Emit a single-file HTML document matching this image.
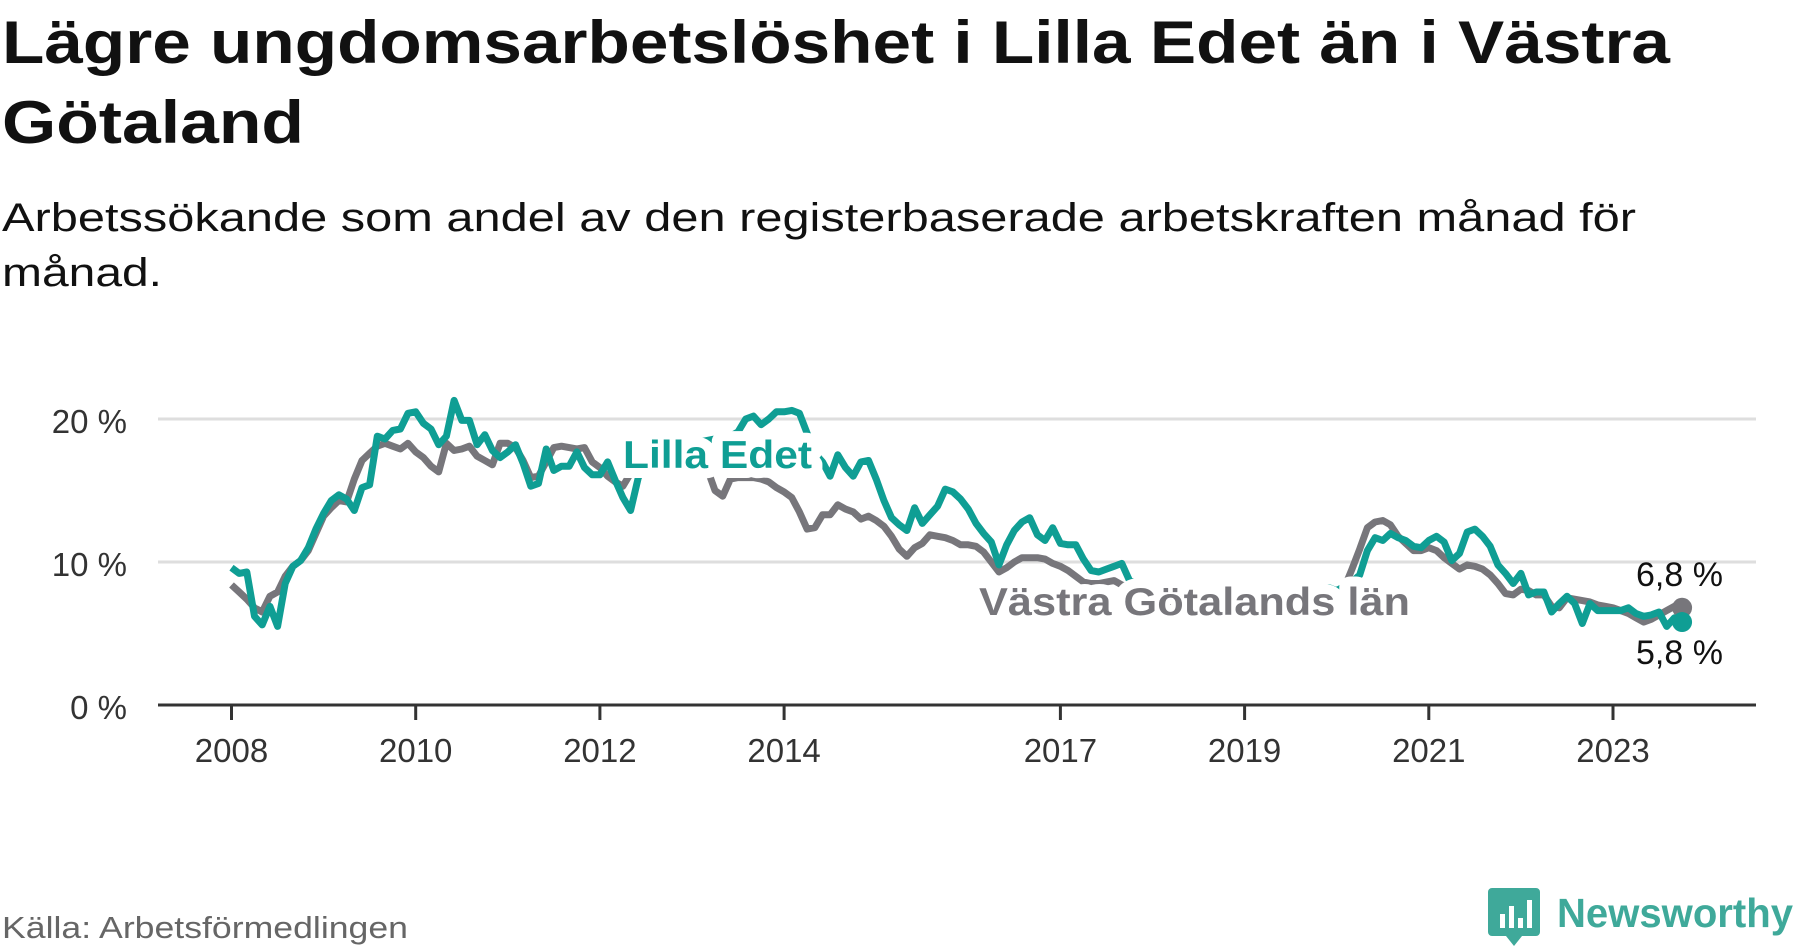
<!DOCTYPE html>
<html><head><meta charset="utf-8"><style>
html,body{margin:0;padding:0;background:#fff;}
svg{display:block;font-family:"Liberation Sans",sans-serif;}
</style></head><body>
<svg id="chart" width="1800" height="948" viewBox="0 0 1800 948">
<text x="2" y="63" font-size="60" font-weight="bold" fill="#111" textLength="1668" lengthAdjust="spacingAndGlyphs">Lägre ungdomsarbetslöshet i Lilla Edet än i Västra</text>
<text x="2" y="143" font-size="60" font-weight="bold" fill="#111" textLength="302" lengthAdjust="spacingAndGlyphs">Götaland</text>
<text x="2" y="231" font-size="40" fill="#111" textLength="1634" lengthAdjust="spacingAndGlyphs">Arbetssökande som andel av den registerbaserade arbetskraften månad för</text>
<text x="2" y="286" font-size="40" fill="#111" textLength="160" lengthAdjust="spacingAndGlyphs">månad.</text>
<g id="grid"></g><g id="axes"></g><g id="lines"></g><g id="labels"></g>
<text x="2" y="938" font-size="31" fill="#666" textLength="406" lengthAdjust="spacingAndGlyphs">Källa: Arbetsförmedlingen</text>
<g>
<path d="M1492 888 h44 a4 4 0 0 1 4 4 v40 a4 4 0 0 1 -4 4 h-14 l-8 10 l-8 -10 h-14 a4 4 0 0 1 -4 -4 v-40 a4 4 0 0 1 4 -4z" fill="#3fa99a"/>
<rect x="1500" y="914" width="5" height="14" fill="#fff"/><rect x="1509" y="906" width="5" height="22" fill="#fff"/><rect x="1518" y="918" width="5" height="10" fill="#fff"/><rect x="1527" y="900" width="5" height="28" fill="#fff"/>
<text x="1557" y="927" font-size="41" font-weight="bold" fill="#3fa99a" textLength="236" lengthAdjust="spacingAndGlyphs">Newsworthy</text>
</g>
</svg>
<script>
const yTicks=[0,10,20];
const yTickLabels=["0 %","10 %","20 %"];
const xTickYears=[2008,2010,2012,2014,2017,2019,2021,2023];
const startYear=2008;
const lillaEdet=[
9.6,9.2,9.3,6.2,5.6,6.9,5.5,8.5,9.7,10.1,11.0,12.3,
13.4,14.3,14.7,14.4,13.6,15.2,15.4,18.8,18.6,19.2,19.3,20.4,
20.5,19.7,19.3,18.2,18.8,21.3,19.9,19.9,18.2,18.9,17.8,17.3,
17.7,18.2,16.9,15.3,15.5,17.9,16.4,16.7,16.7,17.7,16.6,16.1,
16.1,17.0,15.7,14.5,13.6,15.9,16.8,17.3,17.6,17.8,18.0,18.1,
18.2,18.4,18.5,18.6,18.7,18.8,19.1,20.0,20.2,19.6,20.0,20.5,
20.5,20.6,20.4,19.0,17.6,17.0,16.0,17.5,16.6,16.0,17.0,17.1,
15.8,14.3,13.1,12.6,12.2,13.8,12.7,13.3,13.9,15.1,14.9,14.4,
13.7,12.7,12.0,11.4,9.8,11.2,12.2,12.8,13.1,11.9,11.5,12.4,
11.3,11.2,11.2,10.2,9.4,9.3,9.5,9.7,9.9,8.7,8.5,8.3,
8.0,8.2,8.0,7.8,7.5,7.6,7.8,7.4,7.2,7.0,7.3,7.5,
7.6,7.8,7.5,7.3,7.4,7.6,7.8,7.5,7.7,7.9,8.0,8.2,
8.0,8.3,8.6,9.1,10.8,11.7,11.5,12.0,11.7,11.5,11.1,11.0,
11.5,11.8,11.4,10.1,10.6,12.1,12.3,11.8,11.1,9.8,9.2,8.5,
9.2,7.7,7.9,7.9,6.5,7.1,7.6,7.1,5.7,7.1,6.6,6.6,
6.6,6.6,6.8,6.4,6.2,6.3,6.5,5.5,6.1,5.8];
const vastraGotaland=[
8.4,7.9,7.4,6.8,6.5,7.6,7.9,9.0,9.7,10.1,10.8,12.0,
13.2,13.8,14.3,14.2,15.8,17.1,17.6,18.1,18.3,18.1,17.9,18.3,
17.7,17.3,16.7,16.3,18.3,17.8,17.9,18.1,17.4,17.1,16.8,18.3,
18.3,18.0,17.1,15.9,16.0,17.0,18.0,18.1,18.0,17.9,18.0,17.0,
16.6,16.0,15.6,15.3,16.2,16.8,17.0,17.2,17.3,17.4,17.3,17.2,
17.1,16.9,16.5,15.0,14.6,15.8,15.9,15.9,15.9,15.8,15.6,15.2,
14.9,14.5,13.5,12.3,12.4,13.3,13.3,14.0,13.7,13.5,13.0,13.2,
12.9,12.5,11.8,10.9,10.4,11.0,11.3,11.9,11.8,11.7,11.5,11.2,
11.2,11.1,10.7,10.0,9.3,9.6,10.0,10.3,10.3,10.3,10.2,9.9,
9.7,9.4,9.0,8.6,8.5,8.5,8.6,8.7,8.4,8.2,8.0,7.8,
7.5,7.4,7.3,7.2,7.0,6.9,7.0,7.1,7.0,6.8,6.7,6.8,
6.9,7.0,7.0,6.9,7.0,7.1,7.2,7.1,7.0,7.1,7.2,7.4,
7.6,8.2,9.5,10.9,12.4,12.8,12.9,12.6,11.8,11.3,10.8,10.8,
11.0,10.8,10.3,9.9,9.5,9.8,9.7,9.5,9.1,8.5,7.8,7.7,
8.1,8.0,7.7,7.7,6.9,6.8,7.5,7.4,7.3,7.2,7.0,6.9,
6.8,6.6,6.4,6.1,5.8,6.0,6.3,6.6,6.9,6.8];

const NS="http://www.w3.org/2000/svg";
const X0=231.5, PXY=92.1, Y0=705, PXV=14.3;
function xm(m){return X0+m*PXY/12;}
function xy(yr){return X0+(yr-startYear)*PXY;}
function yv(v){return Y0-v*PXV;}
function mk(tag,attrs,parent,txt){const e=document.createElementNS(NS,tag);for(const k in attrs)e.setAttribute(k,attrs[k]);if(txt!==undefined)e.textContent=txt;parent.appendChild(e);return e;}
const grid=document.getElementById('grid'),axes=document.getElementById('axes'),lines=document.getElementById('lines'),labels=document.getElementById('labels');
yTicks.forEach((t,i)=>{
  if(t!==0){const g=mk('line',{x1:158,x2:1756,y1:yv(t),y2:yv(t),stroke:'#dedede','stroke-width':3},grid);
  
  }
  const l=mk('text',{x:127,y:yv(t)+14,'font-size':33,fill:'#333','text-anchor':'end'},axes,yTickLabels[i]);
  
  
});
const ax=mk('line',{x1:158,x2:1756,y1:Y0,y2:Y0,stroke:'#333','stroke-width':3},axes);


xTickYears.forEach(yr=>{
  const t=mk('line',{x1:xy(yr),x2:xy(yr),y1:Y0,y2:Y0+15,stroke:'#333','stroke-width':3},axes);
  
  
  const l=mk('text',{x:xy(yr),y:Y0+57,'font-size':33,fill:'#333','text-anchor':'middle'},axes,String(yr));
  
  
});
function pathOf(arr){return arr.map((v,i)=>(i?'L':'M')+xm(i).toFixed(1)+' '+yv(v).toFixed(1)).join(' ');}
const gl=mk('path',{d:pathOf(vastraGotaland),fill:'none',stroke:'#77767b','stroke-width':7,'stroke-linejoin':'round'},lines);


const tl=mk('path',{d:pathOf(lillaEdet),fill:'none',stroke:'#0f9e94','stroke-width':7,'stroke-linejoin':'round'},lines);


const halo={stroke:'#fff','stroke-width':20,'stroke-linejoin':'round','paint-order':'stroke','font-weight':'bold','font-size':39};
const l1=mk('text',Object.assign({x:623,y:468,fill:'#0f9e94',textLength:189,lengthAdjust:'spacingAndGlyphs'},halo),labels,'Lilla Edet');


const l2=mk('text',Object.assign({x:979,y:615,fill:'#77767b',textLength:431,lengthAdjust:'spacingAndGlyphs'},halo),labels,'Västra Götalands län');


const n=lillaEdet.length-1, ng=vastraGotaland.length-1;
const d1=mk('circle',{cx:xm(ng),cy:yv(vastraGotaland[ng]),r:10,fill:'#77767b'},labels);


const d2=mk('circle',{cx:xm(n),cy:yv(lillaEdet[n]),r:10,fill:'#0f9e94'},labels);


function fmt(v){return v.toFixed(1).replace('.',',')+' %';}
const v1=mk('text',{x:1636,y:586,'font-size':34,fill:'#111'},labels,fmt(vastraGotaland[ng]));


const v2=mk('text',{x:1636,y:664,'font-size':34,fill:'#111'},labels,fmt(lillaEdet[n]));


</script>
</body></html>
